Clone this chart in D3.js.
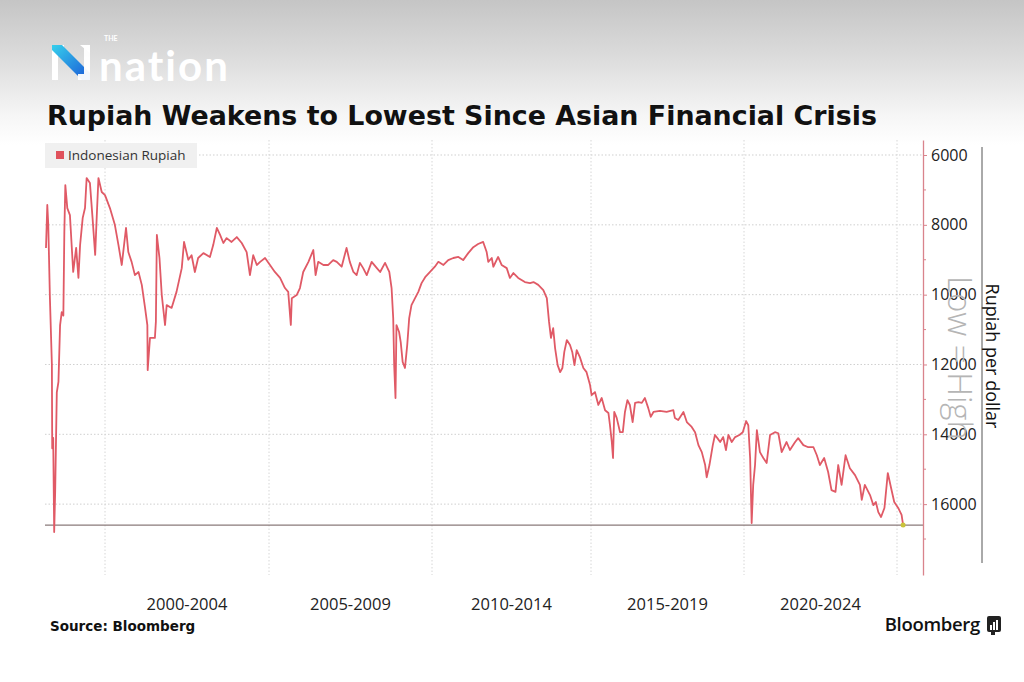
<!DOCTYPE html>
<html>
<head>
<meta charset="utf-8">
<script src="https://cdn.jsdelivr.net/npm/d3@7"></script>
<style>
  html, body { margin: 0; padding: 0; background: #fff; }
  svg { display: block; }
</style>
</head>
<body>
<svg id="chart" width="1024" height="682"></svg>
<script>
// ---------------- DATA ----------------
const seriesName = "Indonesian Rupiah";
// decimal years (time) for each observation
const years = [
  1998.20,1998.24,1998.27,1998.32,1998.38,1998.39,1998.42,1998.45,1998.48,1998.53,
  1998.58,1998.63,1998.68,1998.73,1998.76,1998.79,1998.85,1998.93,1999.03,1999.12,
  1999.19,1999.24,1999.32,1999.39,1999.44,1999.54,1999.62,1999.70,1999.75,1999.80,
  1999.90,2000.00,2000.15,2000.30,2000.41,2000.51,2000.64,2000.71,2000.81,2000.91,
  2001.02,2001.12,2001.22,2001.29,2001.30,2001.37,2001.52,2001.55,2001.58,2001.66,
  2001.73,2001.83,2001.88,2002.03,2002.18,2002.34,2002.41,2002.54,2002.64,2002.74,
  2002.84,2003.00,2003.20,2003.30,2003.41,2003.51,2003.61,2003.71,2003.86,2004.02,
  2004.17,2004.32,2004.42,2004.52,2004.63,2004.73,2004.88,2005.03,2005.18,2005.34,
  2005.49,2005.59,2005.67,2005.70,2005.85,2005.95,2006.05,2006.21,2006.36,2006.43,
  2006.51,2006.67,2006.82,2006.97,2007.08,2007.23,2007.38,2007.48,2007.59,2007.69,
  2007.79,2007.89,2008.00,2008.15,2008.31,2008.41,2008.56,2008.69,2008.76,2008.81,
  2008.84,2008.88,2008.91,2008.99,2009.04,2009.10,2009.17,2009.24,2009.30,2009.37,
  2009.48,2009.58,2009.68,2009.79,2009.94,2010.09,2010.20,2010.36,2010.51,2010.67,
  2010.83,2010.98,2011.14,2011.30,2011.45,2011.61,2011.72,2011.77,2011.88,2011.93,
  2012.08,2012.19,2012.35,2012.45,2012.56,2012.71,2012.92,2013.08,2013.19,2013.34,
  2013.50,2013.61,2013.68,2013.74,2013.81,2013.87,2013.95,2014.03,2014.10,2014.16,
  2014.24,2014.34,2014.41,2014.48,2014.55,2014.65,2014.76,2014.86,2014.97,2015.02,
  2015.13,2015.24,2015.35,2015.46,2015.57,2015.62,2015.68,2015.72,2015.76,2015.84,
  2015.95,2016.04,2016.11,2016.19,2016.27,2016.36,2016.44,2016.55,2016.66,2016.76,
  2016.87,2016.95,2017.04,2017.25,2017.47,2017.69,2017.74,2017.85,2018.02,2018.13,
  2018.29,2018.40,2018.51,2018.62,2018.73,2018.78,2018.87,2018.98,2019.05,2019.13,
  2019.22,2019.32,2019.41,2019.49,2019.60,2019.71,2019.85,2019.96,2020.07,2020.14,
  2020.20,2020.25,2020.30,2020.36,2020.42,2020.52,2020.63,2020.74,2020.85,2021.01,
  2021.12,2021.23,2021.39,2021.50,2021.67,2021.77,2021.94,2022.10,2022.27,2022.38,
  2022.48,2022.62,2022.75,2022.86,2022.99,2023.08,2023.19,2023.32,2023.46,2023.63,
  2023.79,2023.85,2023.95,2024.12,2024.23,2024.31,2024.39,2024.48,2024.59,2024.70,
  2024.80,2024.91,2025.04,2025.15,2025.20
];
// rupiah per US dollar
const values = [
  8665,7430,8000,10100,12000,14400,14100,16800,15650,12800,
  12500,10870,10500,10600,8200,6860,7520,7720,9350,8660,
  9520,8580,7800,7520,6660,6800,7800,8860,7720,6660,
  7060,7150,7520,8000,8580,9150,8090,8780,9060,9440,
  9350,9720,10380,10870,12160,11240,11240,10780,8290,8950,
  10010,10870,10300,10380,9920,9240,8490,9000,8870,9350,
  8950,8810,8920,8580,8090,8290,8520,8380,8490,8350,
  8520,8780,9440,8870,9150,9060,8950,9150,9350,9520,
  9810,9920,10870,10100,10010,9810,9350,9060,8720,9440,
  9060,9150,9150,9010,9060,9200,8660,9060,9350,9440,
  9090,9240,9440,9060,9240,9350,9090,9350,9810,10670,
  12020,12960,10870,11070,11360,11930,12100,11440,10670,10300,
  10100,9920,9670,9500,9350,9200,9060,9150,9010,8950,
  8920,9010,8810,8640,8550,8490,8780,9060,8950,9200,
  8920,9150,9240,9520,9380,9520,9640,9670,9640,9720,
  9870,10100,10780,11240,10960,11530,12020,12220,12100,11640,
  11300,11440,11640,12020,11590,11790,12100,12220,12590,12880,
  12790,13160,12960,13310,13390,13740,14220,14680,13360,13530,
  13940,13940,13360,13020,13160,13650,13100,13080,13100,12960,
  13250,13500,13360,13330,13360,13310,13530,13590,13360,13650,
  13790,13940,14310,14510,14880,15230,14880,14310,14020,14110,
  14220,14080,14450,14020,14220,14080,14020,13940,13620,13740,
  14680,16540,15450,14880,13880,14510,14680,14820,14020,13940,
  13970,14510,14220,14450,14220,14110,14310,14370,14370,14600,
  14880,14680,15080,15600,15650,14880,15450,14600,14970,15170,
  15450,15880,15450,15740,16030,15940,16230,16370,16110,15110,
  15510,15940,16110,16310,16600
];
const yMajorTicks = [6000, 8000, 10000, 12000, 14000, 16000];
const yMinorTicks = [7000, 9000, 11000, 13000, 15000, 17000];
const gridYears = [2000, 2005, 2010, 2015, 2020, 2025];
const periodLabels = ["2000-2004", "2005-2009", "2010-2014", "2015-2019", "2020-2024"];
const periodStarts = [2000, 2005, 2010, 2015, 2020];
const domainStartYear = 1998.17, domainEndYear = 2025.85;
const yDomain = [5570, 18030];

// ---------------- HELPERS ----------------
function toDate(y) {
  const yr = Math.floor(y);
  const s = new Date(yr, 0, 1), e = new Date(yr + 1, 0, 1);
  return new Date(+s + (y - yr) * (e - s));
}
const data = years.map((y, i) => ({ date: toDate(y), value: values[i] }));

const svg = d3.select("#chart");
const W = 1024, H = 682;
const plot = { left: 45, right: 923, top: 140, bottom: 575 };

// background gradient
const defs = svg.append("defs");
const bg = defs.append("linearGradient").attr("id", "bgGrad").attr("x1", 0).attr("y1", 0).attr("x2", 0).attr("y2", 1);
bg.append("stop").attr("offset", "0%").attr("stop-color", "#c5c5c5");
bg.append("stop").attr("offset", "40%").attr("stop-color", "#dcdcdc");
bg.append("stop").attr("offset", "80%").attr("stop-color", "#f6f6f6");
bg.append("stop").attr("offset", "100%").attr("stop-color", "#ffffff");
svg.append("rect").attr("width", W).attr("height", H).attr("fill", "#ffffff");
svg.append("rect").attr("width", W).attr("height", 145).attr("fill", "url(#bgGrad)");

const nGrad = defs.append("linearGradient").attr("id", "nGrad").attr("x1", 0).attr("y1", 0).attr("x2", 1).attr("y2", 1);
nGrad.append("stop").attr("offset", "0%").attr("stop-color", "#36d0ec");
nGrad.append("stop").attr("offset", "100%").attr("stop-color", "#1a56d6");

// ---------------- LOGO ----------------
const logo = svg.append("g").attr("transform", "translate(52,45)");
logo.append("path").attr("d", "M0,0 H12 V6 H6 V35 H0 Z").attr("fill", "#ffffff");
logo.append("path").attr("d", "M0,0 H10 L38,28 V35 H30 L0,5 Z").attr("fill", "url(#nGrad)");
logo.append("path").attr("d", "M38,35 H26 V29 H32 V0 H38 Z").attr("fill", "#ffffff").attr("opacity", 0.95);
logo.append("path").attr("d", "M28,0 H38 V8 Z").attr("fill", "#ffffff");
svg.append("text").attr("x", 104).attr("y", 41).text("THE")
  .attr("font-family", "Lato, 'Open Sans', sans-serif").attr("font-weight", 700)
  .attr("font-size", 7).attr("fill", "#ffffff");
svg.append("text").attr("x", 99).attr("y", 81).text("nation")
  .attr("font-family", "Lato, 'Open Sans', sans-serif").attr("font-weight", 700)
  .attr("font-size", 42).attr("letter-spacing", 2).attr("fill", "#ffffff");

// ---------------- TITLE ----------------
const title = svg.append("text").attr("x", 47).attr("y", 125)
  .text("Rupiah Weakens to Lowest Since Asian Financial Crisis")
  .attr("font-family", "'DejaVu Sans', Verdana, sans-serif").attr("font-weight", 700)
  .attr("font-size", 24).attr("fill", "#111");
const tl = title.node().getComputedTextLength();
title.attr("font-size", 24 * 830 / tl);

// ---------------- SCALES ----------------
const x = d3.scaleTime()
  .domain([toDate(domainStartYear), ...gridYears.map(y => new Date(y, 0, 1)), toDate(domainEndYear)])
  .range([45, 105, 269, 432, 591, 744, 897, 923]);
const y = d3.scaleLinear().domain(yDomain).range([plot.top, plot.bottom]);

// ---------------- GRID ----------------
const grid = svg.append("g");
grid.selectAll("line.h").data(yMajorTicks).join("line")
  .attr("x1", plot.left).attr("x2", plot.right)
  .attr("y1", d => y(d)).attr("y2", d => y(d))
  .attr("stroke", "#cfcfcf").attr("stroke-width", 1).attr("stroke-dasharray", "1.5,2");
grid.selectAll("line.v").data(gridYears).join("line")
  .attr("x1", d => x(new Date(d, 0, 1))).attr("x2", d => x(new Date(d, 0, 1)))
  .attr("y1", plot.top).attr("y2", plot.bottom)
  .attr("stroke", "#d6d6d6").attr("stroke-width", 1).attr("stroke-dasharray", "1.5,2");

// ---------------- LEGEND ----------------
svg.append("rect").attr("x", 45).attr("y", 143).attr("width", 152).attr("height", 25).attr("fill", "#f0f0f0");
svg.append("rect").attr("x", 56).attr("y", 151).attr("width", 8).attr("height", 8).attr("fill", "#e0525c");
svg.append("text").attr("x", 68).attr("y", 160).text(seriesName)
  .attr("font-family", "'Open Sans', sans-serif").attr("font-size", 13.5).attr("fill", "#333");

// ---------------- LINE ----------------
const last = data[data.length - 1];
svg.append("line").attr("x1", plot.left).attr("x2", plot.right)
  .attr("y1", y(last.value)).attr("y2", y(last.value))
  .attr("stroke", "#8a7a7a").attr("stroke-width", 1.3);

const line = d3.line().x(d => x(d.date)).y(d => y(d.value));
svg.append("path").datum(data).attr("d", line)
  .attr("fill", "none").attr("stroke", "#e05a66").attr("stroke-width", 1.8)
  .attr("stroke-linejoin", "round");
svg.append("circle").attr("cx", x(last.date)).attr("cy", y(last.value)).attr("r", 2.5).attr("fill", "#c9c23c");

// ---------------- RIGHT AXIS ----------------
const axisG = svg.append("g").attr("transform", `translate(${plot.right},0)`);
axisG.call(d3.axisRight(y).tickValues(yMajorTicks).tickFormat(d3.format("d"))
    .tickSize(4).tickPadding(4).tickSizeOuter(0))
  .call(g => g.select(".domain").attr("stroke", "#d9838c").attr("stroke-width", 1.3))
  .call(g => g.selectAll(".tick line").attr("stroke", "#d9838c"))
  .call(g => g.selectAll(".tick text").attr("font-family", "'Open Sans', sans-serif")
    .attr("font-size", 16).attr("fill", "#222"));
axisG.selectAll("line.minor").data(yMinorTicks).join("line")
  .attr("x1", 0).attr("x2", 3).attr("y1", d => y(d)).attr("y2", d => y(d))
  .attr("stroke", "#d9838c");

// Low = High
svg.append("text").attr("transform", "translate(948,358) rotate(90)")
  .attr("text-anchor", "middle").text("Low = High")
  .attr("font-family", "'Open Sans', sans-serif").attr("font-weight", 300)
  .attr("font-size", 33).attr("fill", "#b5b5b5");

// axis title
svg.append("line").attr("x1", 982).attr("x2", 982).attr("y1", 147).attr("y2", 563)
  .attr("stroke", "#555").attr("stroke-width", 1);
svg.append("text").attr("transform", "translate(986,356) rotate(90)")
  .attr("text-anchor", "middle").text("Rupiah per dollar")
  .attr("font-family", "'Open Sans', sans-serif").attr("font-size", 18).attr("fill", "#111");

// ---------------- BOTTOM LABELS ----------------
svg.selectAll("text.period").data(periodLabels).join("text")
  .attr("x", (d, i) => (x(new Date(periodStarts[i], 0, 1)) + x(new Date(periodStarts[i] + 5, 0, 1))) / 2)
  .attr("y", 610).attr("text-anchor", "middle").text(d => d)
  .attr("font-family", "'Open Sans', sans-serif").attr("font-size", 16.5).attr("fill", "#222");

svg.append("text").attr("x", 50).attr("y", 631).text("Source: Bloomberg")
  .attr("font-family", "'DejaVu Sans', Verdana, sans-serif").attr("font-weight", 700)
  .attr("font-size", 13.5).attr("fill", "#111");

svg.append("text").attr("x", 980).attr("y", 631).attr("text-anchor", "end").text("Bloomberg")
  .attr("font-family", "'Open Sans', sans-serif").attr("font-weight", 600)
  .attr("font-size", 18.5).attr("fill", "#111").attr("letter-spacing", -0.3);
// small Bloomberg mark
const bm = svg.append("g").attr("transform", "translate(987,616)");
bm.append("rect").attr("width", 14).attr("height", 16).attr("rx", 2).attr("fill", "#222");
bm.append("rect").attr("x", 4).attr("y", 16).attr("width", 4).attr("height", 3).attr("fill", "#222");
[[3,9,2,5],[6,6,2,8],[9,4,2,10]].forEach(b =>
  bm.append("rect").attr("x", b[0]).attr("y", b[1]).attr("width", b[2]).attr("height", b[3]).attr("fill", "#fff"));
</script>
</body>
</html>
